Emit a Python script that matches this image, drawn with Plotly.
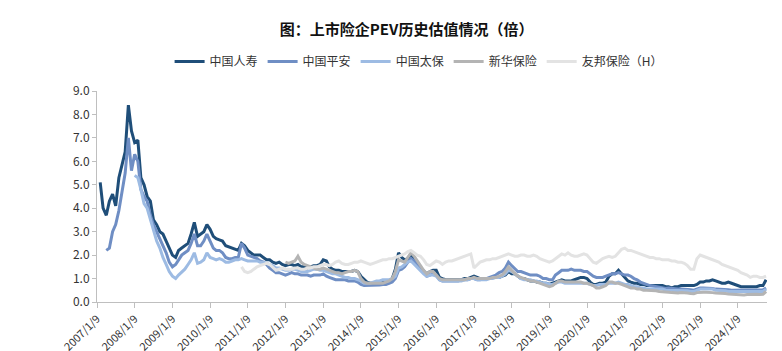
import plotly.graph_objects as go
import pandas as pd

# Monthly sampling dates (9th of each month), Jan 2007 - Oct 2024
dates = pd.date_range("2007-01-09", "2024-10-09", freq="MS") + pd.Timedelta(days=8)

N = None
# 中国人寿
life = [
    5.1, 4.0, 3.7, 4.3, 4.6, 4.1, 5.3, 5.8, 6.4, 8.4, 7.3, 6.8,   # 2007
    6.9, 5.3, 5.0, 4.5, 4.3, 3.5, 3.3, 3.0, 2.9, 2.6, 2.3, 2.0,   # 2008
    1.9, 2.2, 2.3, 2.4, 2.5, 2.9, 3.4, 2.8, 2.9, 3.0, 3.3, 3.1,   # 2009
    2.8, 2.7, 2.65, 2.6, 2.4, 2.35, 2.3, 2.25, 2.2, 2.5, 2.4, 2.2,  # 2010
    2.1, 2.0, 2.0, 2.0, 1.9, 1.8, 1.8, 1.7, 1.65, 1.7, 1.6, 1.55,  # 2011
    1.6, 1.6, 1.55, 1.6, 1.5, 1.5, 1.45, 1.5, 1.55, 1.55, 1.6, 1.8,  # 2012
    1.75, 1.5, 1.4, 1.35, 1.35, 1.3, 1.3, 1.3, 1.3, 1.35, 1.3, 1.1,  # 2013
    0.95, 0.85, 0.8, 0.8, 0.8, 0.8, 0.85, 0.9, 0.9, 1.0, 1.4, 2.1,  # 2014
    1.9, 1.8, 1.85, 2.0, 1.85, 1.7, 1.45, 1.3, 1.2, 1.3, 1.35, 1.35,  # 2015
    1.05, 1.0, 0.95, 0.95, 0.95, 0.95, 0.95, 0.95, 1.0, 1.0, 1.05, 1.1,  # 2016
    1.05, 1.0, 1.0, 1.0, 1.0, 1.05, 1.05, 1.05, 1.1, 1.15, 1.3, 1.2,  # 2017
    1.2, 1.1, 1.0, 1.0, 0.95, 0.9, 0.9, 0.85, 0.85, 0.8, 0.8, 0.75,  # 2018
    0.8, 0.85, 0.9, 0.95, 0.9, 0.9, 0.9, 0.95, 1.0, 1.05, 1.05, 1.0,  # 2019
    0.85, 0.75, 0.75, 0.8, 0.8, 0.85, 1.1, 1.2, 1.2, 1.35, 1.2, 1.05,  # 2020
    0.9, 0.85, 0.8, 0.8, 0.75, 0.75, 0.7, 0.7, 0.7, 0.7, 0.7, 0.7,  # 2021
    0.65, 0.65, 0.6, 0.65, 0.65, 0.7, 0.7, 0.7, 0.7, 0.7, 0.75, 0.85,  # 2022
    0.85, 0.9, 0.9, 0.95, 0.9, 0.85, 0.8, 0.8, 0.85, 0.8, 0.75, 0.7,  # 2023
    0.65, 0.65, 0.65, 0.65, 0.65, 0.65, 0.7, 0.7, 0.95, 1.0,        # 2024
]
# 中国平安
pingan = [
    N, N, 2.2, 2.3, 3.0, 3.3, 3.9, 4.7, 5.5, 7.0, 5.6, 6.3,
    6.0, 4.8, 4.5, 4.3, 3.7, 3.3, 3.0, 2.7, 2.4, 2.1, 1.7, 1.5,
    1.6, 1.8, 2.0, 2.1, 2.2, 2.5, 2.9, 2.4, 2.4, 2.6, 2.9, 2.6,
    2.3, 2.2, 2.2, 2.1, 1.9, 1.85, 1.85, 1.9, 1.9, 2.5, 2.3, 2.0,
    1.95, 1.9, 1.85, 1.75, 1.7, 1.6, 1.45, 1.35, 1.25, 1.25, 1.2, 1.15,
    1.2, 1.25, 1.2, 1.2, 1.15, 1.15, 1.15, 1.1, 1.15, 1.15, 1.15, 1.2,
    1.1, 1.05, 1.0, 0.95, 0.95, 0.95, 0.95, 0.9, 0.9, 0.9, 0.85, 0.75,
    0.7, 0.7, 0.7, 0.7, 0.72, 0.72, 0.75, 0.75, 0.8, 0.85, 1.0, 1.35,
    1.4, 1.5, 1.7, 1.85, 1.75, 1.6, 1.4, 1.25, 1.1, 1.15, 1.2, 1.15,
    0.95, 0.9, 0.9, 0.9, 0.9, 0.9, 0.9, 0.95, 0.95, 0.95, 1.0, 1.0,
    0.95, 0.95, 1.0, 1.0, 1.05, 1.1, 1.15, 1.25, 1.3, 1.45, 1.7, 1.55,
    1.4, 1.3, 1.3, 1.25, 1.2, 1.15, 1.15, 1.15, 1.1, 1.0, 1.0, 0.95,
    0.95, 1.15, 1.25, 1.35, 1.35, 1.35, 1.4, 1.35, 1.35, 1.35, 1.3, 1.3,
    1.2, 1.1, 1.05, 1.05, 1.05, 1.1, 1.15, 1.2, 1.2, 1.25, 1.2, 1.15,
    1.15, 1.1, 1.0, 0.95, 0.85, 0.8, 0.72, 0.7, 0.68, 0.65, 0.62, 0.6,
    0.58, 0.6, 0.58, 0.55, 0.55, 0.55, 0.55, 0.55, 0.52, 0.5, 0.55, 0.6,
    0.6, 0.6, 0.6, 0.58, 0.55, 0.55, 0.55, 0.55, 0.52, 0.5, 0.5, 0.5,
    0.5, 0.5, 0.5, 0.52, 0.52, 0.52, 0.5, 0.52, 0.6, 0.75,
]
# 中国太保
cpic = [
    N, N, N, N, N, N, N, N, N, N, N, 5.4,
    5.3, 4.8, 4.2, 4.0, 3.5, 3.0, 2.6, 2.3, 1.9, 1.6, 1.3, 1.1,
    1.0, 1.15, 1.3, 1.4, 1.6, 1.8, 2.1, 1.65, 1.7, 1.8, 2.1, 1.9,
    1.85, 1.8, 1.85, 1.8, 1.7, 1.7, 1.75, 1.8, 1.8, 1.85, 1.8, 1.75,
    1.75, 1.75, 1.75, 1.7, 1.7, 1.65, 1.6, 1.55, 1.45, 1.45, 1.4, 1.35,
    1.35, 1.4, 1.4, 1.35, 1.3, 1.3, 1.3, 1.35, 1.4, 1.4, 1.35, 1.35,
    1.3, 1.25, 1.2, 1.2, 1.15, 1.1, 1.05, 1.05, 1.0, 1.0, 0.95, 0.9,
    0.8, 0.8, 0.8, 0.85, 0.9, 0.9, 0.95, 0.95, 0.95, 1.0, 1.1, 1.45,
    1.5, 1.6, 1.7, 1.75, 1.6, 1.5, 1.35, 1.2, 1.1, 1.15, 1.15, 1.1,
    0.95, 0.9, 0.9, 0.9, 0.9, 0.9, 0.9, 0.9, 0.95, 0.95, 1.0, 1.0,
    0.95, 0.95, 0.95, 0.95, 1.0, 1.0, 1.05, 1.05, 1.1, 1.2, 1.35, 1.3,
    1.2, 1.1, 1.0, 0.95, 0.95, 0.95, 0.9, 0.9, 0.85, 0.8, 0.8, 0.75,
    0.75, 0.8, 0.85, 0.85, 0.8, 0.8, 0.8, 0.8, 0.8, 0.8, 0.8, 0.8,
    0.75, 0.7, 0.7, 0.75, 0.75, 0.75, 0.8, 0.8, 0.8, 0.85, 0.8, 0.75,
    0.75, 0.7, 0.65, 0.65, 0.6, 0.6, 0.55, 0.55, 0.55, 0.55, 0.55, 0.55,
    0.5, 0.5, 0.5, 0.5, 0.5, 0.5, 0.5, 0.48, 0.45, 0.45, 0.5, 0.55,
    0.55, 0.55, 0.55, 0.55, 0.5, 0.5, 0.5, 0.48, 0.45, 0.45, 0.45, 0.45,
    0.42, 0.42, 0.42, 0.45, 0.45, 0.45, 0.45, 0.45, 0.55, 0.7,
]
# 新华保险
nci = [
    N, N, N, N, N, N, N, N, N, N, N, N,
    N, N, N, N, N, N, N, N, N, N, N, N,
    N, N, N, N, N, N, N, N, N, N, N, N,
    N, N, N, N, N, N, N, N, N, N, N, N,
    N, N, N, N, N, N, N, N, N, N, N, 1.7,
    1.65, 1.7, 1.75, 1.95, 1.7, 1.6, 1.55, 1.5, 1.45, 1.4, 1.4, 1.45,
    1.4, 1.35, 1.3, 1.25, 1.25, 1.2, 1.25, 1.3, 1.3, 1.35, 1.3, 1.0,
    0.85, 0.8, 0.8, 0.8, 0.8, 0.8, 0.8, 0.85, 0.9, 1.0, 1.3, 1.8,
    1.75, 1.7, 1.9, 2.1, 1.95, 1.75, 1.5, 1.35, 1.2, 1.3, 1.3, 1.15,
    1.0, 0.95, 0.95, 0.95, 0.95, 0.95, 0.95, 0.95, 0.95, 1.0, 1.0, 1.05,
    1.0, 1.0, 1.0, 1.0, 1.0, 1.05, 1.05, 1.1, 1.15, 1.3, 1.5, 1.35,
    1.2, 1.1, 1.05, 1.0, 0.95, 0.9, 0.9, 0.85, 0.8, 0.75, 0.7, 0.65,
    0.7, 0.8, 0.9, 0.9, 0.85, 0.85, 0.85, 0.85, 0.85, 0.85, 0.8, 0.8,
    0.75, 0.7, 0.6, 0.6, 0.65, 0.7, 0.85, 0.85, 0.8, 0.8, 0.75, 0.7,
    0.65, 0.6, 0.6, 0.55, 0.55, 0.5, 0.5, 0.5, 0.5, 0.48, 0.45, 0.45,
    0.42, 0.42, 0.4, 0.38, 0.38, 0.4, 0.4, 0.38, 0.36, 0.35, 0.4, 0.42,
    0.42, 0.42, 0.42, 0.4, 0.38, 0.38, 0.38, 0.36, 0.34, 0.33, 0.33, 0.32,
    0.3, 0.3, 0.32, 0.33, 0.33, 0.33, 0.32, 0.33, 0.45, 0.55,
]
# 友邦保险（H）
aia = [
    N, N, N, N, N, N, N, N, N, N, N, N,
    N, N, N, N, N, N, N, N, N, N, N, N,
    N, N, N, N, N, N, N, N, N, N, N, N,
    N, N, N, N, N, N, N, N, N, 1.5, 1.3, 1.25,
    1.3, 1.4, 1.5, 1.55, 1.6, 1.65, 1.6, 1.45, 1.35, 1.4, 1.45, 1.4,
    1.4, 1.4, 1.45, 1.45, 1.4, 1.4, 1.45, 1.45, 1.5, 1.5, 1.55, 1.6,
    1.6, 1.55, 1.6, 1.7, 1.75, 1.65, 1.6, 1.6, 1.65, 1.7, 1.7, 1.75,
    1.7, 1.65, 1.6, 1.65, 1.7, 1.75, 1.8, 1.8, 1.85, 1.85, 1.9, 1.95,
    2.0, 2.05, 2.15, 2.2, 2.1, 2.0, 1.95, 1.8, 1.6, 1.55, 1.65, 1.75,
    1.7, 1.6, 1.7, 1.75, 1.75, 1.8, 1.85, 1.9, 1.95, 2.0, 2.05, 1.45,
    1.6, 1.7, 1.75, 1.8, 1.8, 1.85, 1.85, 1.9, 1.95, 2.0, 2.05, 2.0,
    1.95, 1.95, 2.0, 2.0, 1.95, 1.95, 2.0, 1.95, 1.85, 1.8, 1.75, 1.7,
    1.75, 1.85, 1.95, 2.05, 2.0, 2.1, 2.0, 1.95, 1.95, 2.0, 2.05, 2.0,
    1.85, 1.7, 1.65, 1.75, 1.85, 1.9, 1.95, 1.9, 1.95, 2.1, 2.25, 2.3,
    2.2, 2.2, 2.15, 2.1, 2.05, 2.0, 1.95, 1.9, 1.9, 1.85, 1.85, 1.8,
    1.8, 1.8, 1.75, 1.75, 1.7, 1.7, 1.65, 1.55, 1.4, 1.4, 1.85, 2.0,
    1.95, 1.9, 1.85, 1.8, 1.75, 1.7, 1.6, 1.55, 1.5, 1.45, 1.4, 1.35,
    1.25, 1.2, 1.15, 1.05, 1.1, 1.1, 1.05, 1.05, 1.1, 1.35,
]

names = ["中国人寿", "中国平安", "中国太保", "新华保险", "友邦保险（H）"]
series = [life, pingan, cpic, nci, aia]
colors = ["#1f4e79", "#6f8ec4", "#9dbbe3", "#b4b4b4", "#e3e3e3"]

years = list(range(2007, 2025))
tick_vals = [f"{y}-01-09" for y in years]
tick_text = [f"{y}/1/9" for y in years]
y_ticks = [0, 1, 2, 3, 4, 5, 6, 7, 8, 9]

font = "Noto Sans CJK SC"

fig = go.Figure()
for name, vals, col in zip(names, series, colors):
    fig.add_trace(go.Scatter(
        x=dates, y=vals, name=name, mode="lines",
        line=dict(color=col, width=3), connectgaps=False,
    ))

fig.update_layout(
    width=782, height=351,
    margin=dict(l=97, r=15, t=91, b=49, autoexpand=False),
    paper_bgcolor="white", plot_bgcolor="white",
    font=dict(family=font, size=12, color="#333333"),
    title=dict(text="<b>图：上市险企PEV历史估值情况（倍）</b>",
               x=0.52, xanchor="center", y=0.915, yanchor="middle",
               font=dict(size=15, color="#111111", family=font)),
    legend=dict(orientation="h", x=0.48, xanchor="center", y=1.14, yanchor="middle",
                font=dict(size=12, color="#333333"), itemwidth=30,
                bgcolor="rgba(0,0,0,0)"),
    showlegend=True,
)
fig.update_xaxes(
    type="date", range=["2007-01-09", "2024-10-18"], automargin=False,
    tickvals=tick_vals, ticktext=tick_text, tickangle=-45,
    showgrid=False, showline=True, linecolor="#bfbfbf", linewidth=1,
    ticks="outside", ticklen=5, tickcolor="#bfbfbf",
    tickfont=dict(size=11, color="#333333"), zeroline=False,
)
fig.update_yaxes(
    range=[0, 9], tickvals=y_ticks, tickformat=".1f", automargin=False,
    showgrid=False, showline=True, linecolor="#bfbfbf", linewidth=1,
    ticks="outside", ticklen=4, tickcolor="#bfbfbf",
    tickfont=dict(size=12, color="#333333"), zeroline=False,
)

fig.write_html("out.html")
